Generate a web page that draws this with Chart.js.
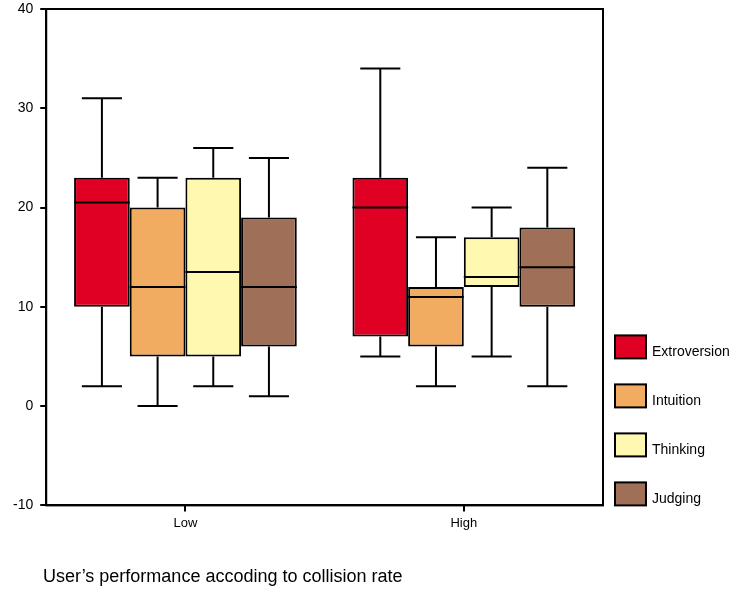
<!DOCTYPE html>
<html>
<head>
<meta charset="utf-8">
<script src="https://cdn.jsdelivr.net/npm/chart.js@4/dist/chart.umd.min.js"></script>
<style>
  body { margin: 0; background: #fff; }
  #wrap { position: relative; width: 742px; height: 595px; }
  #caption {
    position: absolute; left: 43px; top: 566px;
    font: 18px "Liberation Sans", Arial, sans-serif; color: #000;
  }
</style>
</head>
<body>
<div id="wrap">
  <canvas id="boxChart" width="742" height="595"></canvas>
  <div id="caption">User’s performance accoding to collision rate</div>
</div>
<script>
// collision rate groups
const categories = ['Low', 'High'];

// each entry: [min, q1, median, q3, max] for Low, High
const extroversion = [[2, 10, 20.5, 23, 31], [5, 7, 20, 23, 34]];
const intuition    = [[0, 5, 12, 20, 23],    [2, 6, 11, 12, 17]];
const thinking     = [[2, 5, 13.5, 23, 26],  [5, 12, 13, 17, 20]];
const judging      = [[1, 6, 12, 19, 25],    [2, 10, 14, 18, 24]];

const yTicks = [-10, 0, 10, 20, 30, 40];

const series = [
  { name: 'Extroversion', stats: extroversion, color: '#E00024' },
  { name: 'Intuition',    stats: intuition,    color: '#F2AC62' },
  { name: 'Thinking',     stats: thinking,     color: '#FFF8B0' },
  { name: 'Judging',      stats: judging,      color: '#9F6F58' }
];

// medians + whiskers drawn on top of the floating bars
const whiskers = {
  id: 'whiskers',
  afterDatasetsDraw(chart) {
    const ctx = chart.ctx;
    const y = chart.scales.y;
    chart.data.datasets.forEach((ds, i) => {
      chart.getDatasetMeta(i).data.forEach((bar, j) => {
        const s = ds.stats[j];
        const half = bar.width / 2;
        const cap = bar.width * 0.36;
        ctx.save();
        ctx.strokeStyle = '#000';
        ctx.lineWidth = 2;
        ctx.beginPath();
        ctx.moveTo(bar.x - half, y.getPixelForValue(s[2]));
        ctx.lineTo(bar.x + half, y.getPixelForValue(s[2]));
        ctx.moveTo(bar.x, y.getPixelForValue(s[3]));
        ctx.lineTo(bar.x, y.getPixelForValue(s[4]));
        ctx.moveTo(bar.x - cap, y.getPixelForValue(s[4]));
        ctx.lineTo(bar.x + cap, y.getPixelForValue(s[4]));
        ctx.moveTo(bar.x, y.getPixelForValue(s[1]));
        ctx.lineTo(bar.x, y.getPixelForValue(s[0]));
        ctx.moveTo(bar.x - cap, y.getPixelForValue(s[0]));
        ctx.lineTo(bar.x + cap, y.getPixelForValue(s[0]));
        ctx.stroke();
        ctx.restore();
      });
    });
  }
};

// box around the plot area + legend at the lower right
const frameAndLegend = {
  id: 'frameAndLegend',
  afterDraw(chart) {
    const a = chart.chartArea;
    const ctx = chart.ctx;
    ctx.save();
    ctx.strokeStyle = '#000';
    ctx.lineWidth = 2;
    ctx.strokeRect(a.left, a.top, a.right - a.left, a.bottom - a.top);

    const ds = chart.data.datasets;
    const step = 49;
    const bx = a.right + 12;
    ctx.font = '14px "Liberation Sans", Arial, sans-serif';
    ctx.textBaseline = 'alphabetic';
    ds.forEach((d, i) => {
      const top = a.bottom - 23 - (ds.length - 1 - i) * step;
      ctx.fillStyle = d.backgroundColor;
      ctx.fillRect(bx, top, 31, 23);
      ctx.strokeRect(bx, top, 31, 23);
      ctx.fillStyle = '#000';
      ctx.fillText(d.label, bx + 37, top + 21);
    });
    ctx.restore();
  }
};

Chart.defaults.font.family = '"Liberation Sans", Arial, sans-serif';
Chart.defaults.color = '#000';

new Chart(document.getElementById('boxChart'), {
  type: 'bar',
  data: {
    labels: categories,
    datasets: series.map(s => ({
      label: s.name,
      data: s.stats.map(v => [v[1], v[3]]),
      stats: s.stats,
      backgroundColor: s.color,
      borderColor: '#000',
      borderWidth: 2,
      borderSkipped: false,
      categoryPercentage: 0.8,
      barPercentage: 1.0
    }))
  },
  options: {
    responsive: false,
    animation: false,
    layout: { padding: { left: 6, top: 0, right: 139, bottom: 60 } },
    plugins: {
      tooltip: { enabled: false },
      title: { display: false },
      legend: { display: false }
    },
    scales: {
      x: {
        grid: { display: true, drawOnChartArea: false, offset: false, tickLength: 6, color: '#000', lineWidth: 2 },
        border: { display: true, color: '#000', width: 2 },
        ticks: { font: { size: 13 }, color: '#000', padding: 4 }
      },
      y: {
        min: -10,
        max: 40,
        afterBuildTicks: axis => { axis.ticks = yTicks.map(v => ({ value: v })); },
        afterFit: axis => { axis.paddingTop = 9; },
        grid: { display: true, drawOnChartArea: false, tickLength: 6, color: '#000', lineWidth: 2 },
        border: { display: true, color: '#000', width: 2 },
        ticks: { font: { size: 14 }, color: '#000', padding: 7 }
      }
    }
  },
  plugins: [whiskers, frameAndLegend]
});
</script>
</body>
</html>
